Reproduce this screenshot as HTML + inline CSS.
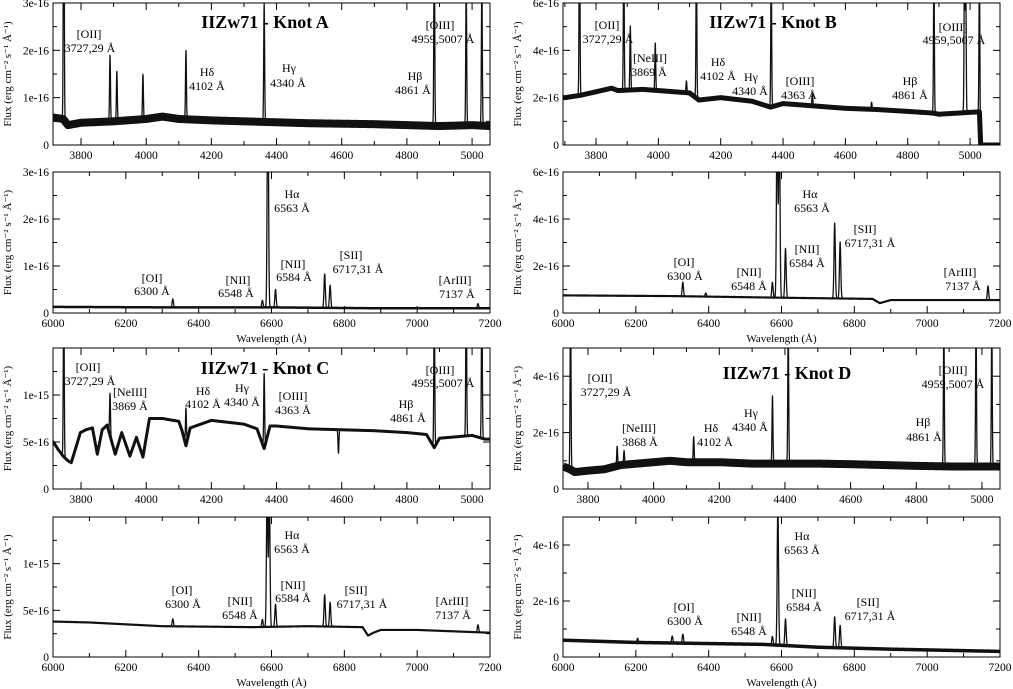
<!DOCTYPE html>
<html><head><meta charset="utf-8"><style>
html,body{margin:0;padding:0;background:#fff;}
svg{display:block;font-family:"Liberation Serif",serif;}
.tk{font-size:11.5px;fill:#000;}
.an{font-size:12px;fill:#000;}
.ttl{font-size:18px;font-weight:bold;fill:#000;}
.yt{font-size:11px;fill:#000;}
</style></head><body>
<svg id="fig" width="1013" height="689" viewBox="0 0 1013 689" xmlns="http://www.w3.org/2000/svg"></svg>
<script>
// ---- data (flux in units of 1e-16) ----
const aTopContWl = [3715,3745,3760,3800,3900,4000,4050,4100,4200,4300,4400,4500,4600,4700,4800,4900,5000,5055];
const aTopContFx = [0.58,0.55,0.42,0.47,0.5,0.55,0.6,0.55,0.52,0.5,0.48,0.46,0.45,0.44,0.42,0.4,0.42,0.4];
const aTopLineWl = [3747,3889,3910,3990,4122,4362,4884,4982,5030];
const aTopLineAmp = [6,1.4,1.05,0.95,1.45,2.5,4,3,3];

const aBotContWl = [6000,6300,6600,6900,7200];
const aBotContFx = [0.13,0.12,0.12,0.1,0.1];
const aBotLineWl = [6329,6575,6590,6611,6746,6761,7167];
const aBotLineAmp = [0.18,0.15,5,0.38,0.72,0.48,0.1];

const bTopContWl = [3700,3750,3800,3850,3870,3950,4000,4100,4130,4200,4300,4360,4400,4500,4600,4700,4800,4880,4900,5000,5030,5034,5036];
const bTopContFx = [2.0,2.1,2.25,2.4,2.3,2.35,2.3,2.2,1.9,2.0,1.85,1.6,1.75,1.65,1.55,1.5,1.42,1.35,1.3,1.38,1.4,0,0];
const bTopLineWl = [3747,3889,3910,3990,4090,4122,4362,4494,4684,4884,4982,4986,5030];
const bTopLineAmp = [8,6,2.7,2.0,0.5,6,6,0.5,0.3,6,6,6,6];

const bBotContWl = [6000,6300,6600,6850,6870,6900,7200];
const bBotContFx = [0.75,0.72,0.65,0.6,0.42,0.55,0.55];
const bBotLineWl = [6329,6392,6575,6588,6594,6611,6746,6761,7167];
const bBotLineAmp = [0.6,0.15,0.65,8,8,2.1,3.2,2.4,0.6];

const cTopContWl = [3715,3730,3745,3760,3770,3785,3798,3815,3835,3850,3865,3880,3905,3925,3950,3970,3990,4010,4050,4100,4110,4122,4135,4200,4300,4340,4362,4380,4400,4500,4600,4700,4800,4860,4884,4900,5000,5040];
const cTopContFx = [5.0,4.2,3.5,3.0,2.8,4.5,6.0,6.3,6.5,3.7,6.3,6.8,3.7,6.0,3.5,5.5,3.4,7.5,7.5,7.2,6.2,4.6,6.5,7.3,6.9,6.4,4.3,6.7,6.7,6.4,6.3,6.2,6.0,5.8,4.4,5.4,5.7,5.3];
const cTopLineWl = [3747,3889,4122,4362,4590,4884,4982,5030];
const cTopLineAmp = [18,4.5,4.0,8,-2.5,16,16,16];

const cBotContWl = [6000,6100,6300,6550,6700,6850,6865,6880,6900,7000,7200];
const cBotContFx = [3.8,3.7,3.3,3.2,3.3,3.2,2.3,2.6,2.9,2.9,2.6];
const cBotLineWl = [6329,6575,6588,6594,6611,6746,6761,7167];
const cBotLineAmp = [0.8,0.8,15,15,2.4,3.4,2.6,0.8];

const dTopContWl = [3715,3745,3760,3800,3850,3900,4000,4050,4100,4200,4300,4400,4500,4600,4700,4800,4900,5000,5055];
const dTopContFx = [0.85,0.7,0.6,0.65,0.7,0.85,0.95,1.0,0.95,0.95,0.9,0.9,0.9,0.88,0.85,0.82,0.8,0.8,0.8];
const dTopLineWl = [3747,3889,3910,4122,4362,4410,4884,4982,5030];
const dTopLineAmp = [6,0.7,0.5,0.9,2.4,4.8,5,5,5];

const dBotContWl = [6000,6200,6300,6550,6700,6900,7200];
const dBotContFx = [0.6,0.52,0.5,0.45,0.35,0.28,0.2];
const dBotLineWl = [6205,6300,6329,6575,6590,6611,6746,6761];
const dBotLineAmp = [0.15,0.25,0.32,0.3,5,0.95,1.1,0.8];

const leftTicks = [3800,4000,4200,4400,4600,4800,5000];
const redTicks = [6000,6200,6400,6600,6800,7000,7200];

const NS="http://www.w3.org/2000/svg";
const svg=document.getElementById('fig');
function mk(tag,attrs,parent){const e=document.createElementNS(NS,tag);for(const k in attrs)e.setAttribute(k,attrs[k]);(parent||svg).appendChild(e);return e;}
function interp(xs,ys,x){if(x<=xs[0])return ys[0];for(let i=1;i<xs.length;i++){if(x<=xs[i]){const t=(x-xs[i-1])/(xs[i]-xs[i-1]);return ys[i-1]+t*(ys[i]-ys[i-1]);}}return ys[ys.length-1];}

let clipId=0;
function panel(cfg){
  const g=mk('g',{});
  
  
  const X=w=>cfg.x0+(w-cfg.xmin)/(cfg.xmax-cfg.xmin)*(cfg.x1-cfg.x0);
  const Y=f=>cfg.y1-f/cfg.ymax*(cfg.y1-cfg.y0);
  const cid='c'+(clipId++);
  const cp=mk('clipPath',{id:cid},g);
  mk('rect',{x:cfg.x0,y:cfg.y0,width:cfg.x1-cfg.x0,height:cfg.y1-cfg.y0},cp);
  let d='',dc='';
  for(let w=cfg.xmin;w<=cfg.xmax;w+=0.5){
    const c=interp(cfg.cw,cfg.cf,w);let f=c;
    for(let i=0;i<cfg.lw.length;i++){const dz=(w-cfg.lw[i])/cfg.sig;if(Math.abs(dz)<5)f+=cfg.la[i]*Math.exp(-0.5*dz*dz);}
    d+=(d?'L':'M')+X(w).toFixed(2)+','+Y(f).toFixed(2);
    dc+=(dc?'L':'M')+X(w).toFixed(2)+','+Y(c).toFixed(2);
  }
  const pc=mk('path',{d:dc,fill:'none',stroke:'#111','stroke-width':cfg.sw,'stroke-linejoin':'round','clip-path':'url(#'+cid+')'},g);
  
  
  const p=mk('path',{d:d,fill:'none',stroke:'#111','stroke-width':1.3,'stroke-linejoin':'round','clip-path':'url(#'+cid+')'},g);
  
  
  const fr=mk('rect',{x:cfg.x0,y:cfg.y0,width:cfg.x1-cfg.x0,height:cfg.y1-cfg.y0,fill:'none',stroke:'#000','stroke-width':1},g);
  
  
  for(let w=Math.ceil(cfg.xmin/100)*100;w<=cfg.xmax;w+=100){
    const major=w%200===0;const L=major?7:4;const xx=X(w);
    mk('line',{x1:xx,x2:xx,y1:cfg.y1,y2:cfg.y1-L,stroke:'#000'},g);
    mk('line',{x1:xx,x2:xx,y1:cfg.y0,y2:cfg.y0+L,stroke:'#000'},g);
  }
  cfg.xt.forEach(w=>{if(w<cfg.xmin-1||w>cfg.xmax+1)return;const t=mk('text',{x:X(w),y:cfg.y1+14,'text-anchor':'middle',class:'tk'},g);t.textContent=w;
    
    });
  for(let v=0;v<=cfg.ymax+1e-9;v+=cfg.ymin){
    const major=Math.abs(v/cfg.ymaj-Math.round(v/cfg.ymaj))<1e-6;const L=major?7:4;const yy=Y(v);
    mk('line',{x1:cfg.x0,x2:cfg.x0+L,y1:yy,y2:yy,stroke:'#000'},g);
    mk('line',{x1:cfg.x1,x2:cfg.x1-L,y1:yy,y2:yy,stroke:'#000'},g);
  }
  cfg.yl.forEach((s,i)=>{const v=i*cfg.ymaj;const t=mk('text',{x:cfg.x0-4,y:Y(v)+4,'text-anchor':'end',class:'tk'},g);t.textContent=s;
    
    });
  const cy=(cfg.y0+cfg.y1)/2;const tx=cfg.x0-42;
  const yt=mk('text',{x:tx,y:cy,'text-anchor':'middle',class:'yt',transform:'rotate(-90 '+tx+' '+cy+')'},g);
  yt.textContent='Flux (erg cm\u207B\u00B2 s\u207B\u00B9 \u00C5\u207B\u00B9)';
  
  
  if(cfg.xlab){const t=mk('text',{x:(cfg.x0+cfg.x1)/2,y:cfg.y1+29,'text-anchor':'middle',class:'yt'},g);t.textContent='Wavelength (\u00C5)';
    
    }
  if(cfg.title){const t=mk('text',{x:cfg.title[1],y:cfg.title[2],'text-anchor':'middle',class:'ttl'},g);t.textContent=cfg.title[0];
    
    }
  cfg.ann.forEach(a=>{const t=mk('text',{x:a[1],y:a[2],'text-anchor':'middle',class:'an'},g);t.textContent=a[0];
    
    });
}
const L0=53,L1=490,R0=563,R1=1000;
panel({name:'knot-a-blue-panel',x0:L0,x1:L1,y0:3,y1:145,xmin:3714,xmax:5055,ymax:3,ymaj:1,ymin:0.5,yl:['0','1e-16','2e-16','3e-16'],xt:leftTicks,
  cw:aTopContWl,cf:aTopContFx,lw:aTopLineWl,la:aTopLineAmp,sig:1.4,sw:8,title:['IIZw71 - Knot A',265,28],
  ann:[['[OII]',89,38],['3727,29 \u00C5',90,52],['H\u03B4',207,76],['4102 \u00C5',207,90],['H\u03B3',289,72],['4340 \u00C5',288,87],['H\u03B2',415,80],['4861 \u00C5',413,94],['[OIII]',440,29],['4959,5007 \u00C5',443,43]]});
panel({name:'knot-a-red-panel',x0:L0,x1:L1,y0:172,y1:313,xmin:6000,xmax:7200,ymax:3,ymaj:1,ymin:0.5,yl:['0','1e-16','2e-16','3e-16'],xt:redTicks,xlab:true,
  cw:aBotContWl,cf:aBotContFx,lw:aBotLineWl,la:aBotLineAmp,sig:1.8,sw:2.5,
  ann:[['H\u03B1',292,198],['6563 \u00C5',292,212],['[OI]',152,282],['6300 \u00C5',152,295],['[NII]',238,284],['6548 \u00C5',236,297],['[NII]',293,268],['6584 \u00C5',294,281],['[SII]',351,259],['6717,31 \u00C5',358,273],['[ArIII]',455,284],['7137 \u00C5',457,298]]});
panel({name:'knot-b-blue-panel',x0:R0,x1:R1,y0:3,y1:145,xmin:3694,xmax:5096,ymax:6,ymaj:2,ymin:1,yl:['0','2e-16','4e-16','6e-16'],xt:leftTicks,
  cw:bTopContWl,cf:bTopContFx,lw:bTopLineWl,la:bTopLineAmp,sig:1.4,sw:5,title:['IIZw71 - Knot B',773,28],
  ann:[['[OII]',607,29],['3727,29 \u00C5',608,43],['[NeIII]',650,62],['3869 \u00C5',649,76],['H\u03B4',718,66],['4102 \u00C5',718,80],['H\u03B3',751,81],['4340 \u00C5',750,95],['[OIII]',800,85],['4363 \u00C5',799,99],['H\u03B2',910,85],['4861 \u00C5',910,99],['[OIII]',953,31],['4959,5007 \u00C5',954,44]]});
panel({name:'knot-b-red-panel',x0:R0,x1:R1,y0:172,y1:313,xmin:6000,xmax:7200,ymax:6,ymaj:2,ymin:1,yl:['0','2e-16','4e-16','6e-16'],xt:redTicks,xlab:true,
  cw:bBotContWl,cf:bBotContFx,lw:bBotLineWl,la:bBotLineAmp,sig:1.8,sw:2.2,
  ann:[['H\u03B1',810,198],['6563 \u00C5',812,212],['[OI]',684,266],['6300 \u00C5',685,280],['[NII]',749,276],['6548 \u00C5',749,290],['[NII]',807,253],['6584 \u00C5',807,267],['[SII]',865,233],['6717,31 \u00C5',870,247],['[ArIII]',960,276],['7137 \u00C5',963,290]]});
panel({name:'knot-c-blue-panel',x0:L0,x1:L1,y0:348,y1:489,xmin:3714,xmax:5055,ymax:15,ymaj:5,ymin:2.5,yl:['0','5e-16','1e-15'],xt:leftTicks,
  cw:cTopContWl,cf:cTopContFx,lw:cTopLineWl,la:cTopLineAmp,sig:1.4,sw:3,title:['IIZw71 - Knot C',265,374],
  ann:[['[OII]',88,371],['3727,29 \u00C5',90,385],['[NeIII]',130,396],['3869 \u00C5',130,410],['H\u03B4',203,395],['4102 \u00C5',203,408],['H\u03B3',242,392],['4340 \u00C5',242,406],['[OIII]',293,400],['4363 \u00C5',293,414],['H\u03B2',406,408],['4861 \u00C5',408,422],['[OIII]',440,374],['4959,5007 \u00C5',443,387]]});
panel({name:'knot-c-red-panel',x0:L0,x1:L1,y0:517,y1:657,xmin:6000,xmax:7200,ymax:15,ymaj:5,ymin:2.5,yl:['0','5e-16','1e-15'],xt:redTicks,xlab:true,
  cw:cBotContWl,cf:cBotContFx,lw:cBotLineWl,la:cBotLineAmp,sig:1.8,sw:2.2,
  ann:[['H\u03B1',292,539],['6563 \u00C5',292,553],['[OI]',182,594],['6300 \u00C5',183,608],['[NII]',240,605],['6548 \u00C5',240,619],['[NII]',293,589],['6584 \u00C5',293,602],['[SII]',356,594],['6717,31 \u00C5',362,608],['[ArIII]',452,605],['7137 \u00C5',453,619]]});
panel({name:'knot-d-blue-panel',x0:R0,x1:R1,y0:348,y1:489,xmin:3724,xmax:5055,ymax:5,ymaj:2,ymin:1,yl:['0','2e-16','4e-16'],xt:leftTicks,
  cw:dTopContWl,cf:dTopContFx,lw:dTopLineWl,la:dTopLineAmp,sig:1.4,sw:8,title:['IIZw71 - Knot D',787,379],
  ann:[['[OII]',600,382],['3727,29 \u00C5',606,396],['[NeIII]',639,432],['3868 \u00C5',640,446],['H\u03B4',711,432],['4102 \u00C5',715,446],['H\u03B3',751,417],['4340 \u00C5',750,431],['H\u03B2',923,426],['4861 \u00C5',924,441],['[OIII]',953,374],['4959,5007 \u00C5',953,388]]});
panel({name:'knot-d-red-panel',x0:R0,x1:R1,y0:517,y1:657,xmin:6000,xmax:7200,ymax:5,ymaj:2,ymin:1,yl:['0','2e-16','4e-16'],xt:redTicks,xlab:true,
  cw:dBotContWl,cf:dBotContFx,lw:dBotLineWl,la:dBotLineAmp,sig:1.8,sw:3.5,
  ann:[['H\u03B1',802,540],['6563 \u00C5',802,554],['[OI]',684,611],['6300 \u00C5',685,625],['[NII]',749,621],['6548 \u00C5',749,635],['[NII]',804,597],['6584 \u00C5',804,611],['[SII]',868,606],['6717,31 \u00C5',870,620]]});
</script>
</body></html>
